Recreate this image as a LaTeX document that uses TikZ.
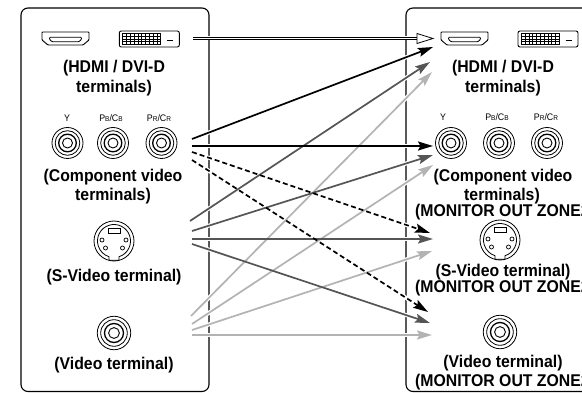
\documentclass[tikz,border=0pt]{standalone}
\usepackage{fontspec}
\setmainfont{Liberation Sans}[FakeStretch=0.93]
\usetikzlibrary{arrows.meta}
\definecolor{darkg}{HTML}{555555}
\definecolor{lightg}{HTML}{B3B3B3}
\newcommand\smalllet[1]{{\fontsize{7}{8}\selectfont #1}}
\tikzset{
  box/.style={draw, line width=1.1pt, rounded corners=7pt},
  title/.style={font=\fontsize{17}{20}\selectfont\bfseries, inner sep=0pt},
  jlabel/.style={font=\fontsize{9.5}{11}\selectfont, inner sep=0pt},
  conn/.style={line width=1.7pt, -{Stealth[length=15pt,width=9pt,inset=2.5pt]}},
  halo/.style={draw=white, line width=4pt},
  blk/.style={conn, color=black},
  dashedconn/.style={conn, color=black, dash pattern=on 5pt off 3pt},
  darkconn/.style={conn, color=darkg},
  lightconn/.style={conn, color=lightg},
  dblconn/.style={line width=0.9pt, double=white, double distance=1.5pt, shorten >=15pt},
  rca/.pic={
    \draw[line width=0.8pt] (0,0) circle[radius=15.5];
    \draw[line width=0.8pt] (0,0) circle[radius=12.3];
    \draw[line width=1.3pt] (0,0) circle[radius=8.8];
    \draw[line width=0.9pt] (0,0) circle[radius=5];
  },
  svideo/.pic={
    \draw[line width=0.8pt] (0,0) circle[radius=20];
    \draw[line width=0.8pt] (72.4:16.5) arc[start angle=72.4, end angle=-252.4, radius=16.5] -- (-5,19.2) -- (5,19.2) -- cycle;
    \draw[line width=0.8pt] (-6,-13) rectangle (6,-7.5);
    \foreach \px/\py in {-12/-1, 12/-1, -8.5/7, 8.5/7}
      \draw[line width=0.7pt] (\px,\py) circle[radius=2];
  },
  hdmi/.pic={
    \draw[line width=0.9pt, rounded corners=0.8pt] (-23.5,-6.5) -- (23.5,-6.5) -- (23.5,1.5) -- (17.5,6.5) -- (-17.5,6.5) -- (-23.5,1.5) -- cycle;
    \draw[line width=0.8pt, rounded corners=0.8pt] (-16,-1.2) -- (16,-1.2) -- (16,0.8) -- (13.5,3.2) -- (-13.5,3.2) -- (-16,0.8) -- cycle;
  },
  dvi/.pic={
    \draw[line width=0.9pt, rounded corners=2pt] (-30,-8) rectangle (30,8);
    \draw[line width=1.1pt] (-26.5,-5.5) rectangle (11.5,5.5);
    \foreach \gx in {-22.7,-18.9,...,8}
      \draw[line width=0.9pt] (\gx,-5.5) -- (\gx,5.5);
    \foreach \gy in {-2.75,0,2.75}
      \draw[line width=0.9pt] (-26.5,\gy) -- (11.5,\gy);
    \draw[line width=1.3pt] (17.5,1.5) -- (23.5,1.5);
  }
}
\begin{document}
\begin{tikzpicture}[x=1pt, y=-1pt]
\useasboundingbox (0,0) rectangle (582,393);
\clip (0,0) rectangle (582,393);

% boxes
\draw[box] (21,8) rectangle (209,391.5);
\draw[box] (406,8) rectangle (610,391.5);

% connector end points
\coordinate (dvis) at (193,38.5);   \coordinate (dvit) at (433,38.5);
\coordinate (crs1) at (192,139);    \coordinate (hdmiA) at (433,47);
\coordinate (crs2) at (192,146);    \coordinate (compA) at (433,146);
\coordinate (crs3) at (192,152);    \coordinate (svA) at (430,233);
\coordinate (crs4) at (192,160);    \coordinate (vidA) at (428,312);
\coordinate (svs1) at (190,221);    \coordinate (hdmiB) at (430,62);
\coordinate (svs2) at (192,231);    \coordinate (compB) at (433,155);
\coordinate (svs3) at (192,239);    \coordinate (svB) at (433,239);
\coordinate (svs4) at (192,244);    \coordinate (vidB) at (430,323);
\coordinate (vs1) at (191,316);     \coordinate (hdmiC) at (432,72);
\coordinate (vs2) at (192,324);     \coordinate (compC) at (433,165);
\coordinate (vs3) at (192,330);     \coordinate (svC) at (432,251);
\coordinate (vs4) at (192,335);     \coordinate (vidC) at (432,335);

% white halos where connectors cross the box borders
\foreach \a/\b in {dvis/dvit, crs1/hdmiA, crs2/compA, crs3/svA, crs4/vidA,
                   svs1/hdmiB, svs2/compB, svs3/svB, svs4/vidB,
                   vs1/hdmiC, vs2/compC, vs3/svC, vs4/vidC}
  \draw[halo, shorten >=6pt] (\a) -- (\b);

% connectors
\draw[lightconn] (vs1) -- (hdmiC);
\draw[lightconn] (vs2) -- (compC);
\draw[lightconn] (vs3) -- (svC);
\draw[lightconn] (vs4) -- (vidC);
\draw[darkconn] (svs1) -- (hdmiB);
\draw[darkconn] (svs2) -- (compB);
\draw[darkconn] (svs3) -- (svB);
\draw[darkconn] (svs4) -- (vidB);
\draw[blk] (crs1) -- (hdmiA);
\draw[blk] (crs2) -- (compA);
\draw[dashedconn] (crs3) -- (svA);
\draw[dashedconn] (crs4) -- (vidA);
\draw[dblconn] (dvis) -- (dvit);
\draw[line width=0.8pt, fill=white] (dvit) -- ++(-16,-5) -- ++(0,10) -- cycle;

% left panel
\pic at (65.5,38.5) {hdmi};
\pic at (149.3,39) {dvi};
\node[title] (lhd1) at (114,68) {(HDMI / DVI-D};
\node[title] (lhd2) at (114,88) {terminals)};
\node[jlabel] (lly) at (67,118) {Y};
\node[jlabel] (llb) at (111,118) {P\smalllet{B}/C\smalllet{B}};
\node[jlabel] (llr) at (159,118) {P\smalllet{R}/C\smalllet{R}};
\pic at (67.5,143) {rca};
\pic at (113,143) {rca};
\pic at (161.5,143) {rca};
\node[title] (lco1) at (113,177) {(Component video};
\node[title] (lco2) at (113,196) {terminals)};
\pic at (114,241) {svideo};
\node[title] (lsv) at (114,277) {(S-Video terminal)};
\pic[scale=1.08] at (114,333) {rca};
\node[title] (lvi) at (114,365) {(Video terminal)};

% right panel
\pic at (464.5,38.5) {hdmi};
\pic at (548,39) {dvi};
\node[title] (rhd1) at (503,68) {(HDMI / DVI-D};
\node[title] (rhd2) at (503,88) {terminals)};
\node[jlabel] (rly) at (443,117) {Y};
\node[jlabel] (rlb) at (497,117) {P\smalllet{B}/C\smalllet{B}};
\node[jlabel] (rlr) at (546,117) {P\smalllet{R}/C\smalllet{R}};
\pic at (451,143) {rca};
\pic at (499,143) {rca};
\pic at (547,143) {rca};
\node[title] (rco1) at (503,177) {(Component video};
\node[title] (rco2) at (502,196) {terminals)};
\node[title, anchor=west] (rz1) at (415,212) {(MONITOR OUT ZONE2)};
\pic at (500,240) {svideo};
\node[title] (rsv) at (503,272.5) {(S-Video terminal)};
\node[title, anchor=west] (rz2) at (415,288.5) {(MONITOR OUT ZONE2)};
\pic[scale=1.08] at (500,332) {rca};
\node[title] (rvi) at (503,363) {(Video terminal)};
\node[title, anchor=west] (rz3) at (415,382) {(MONITOR OUT ZONE2)};
\end{tikzpicture}
\end{document}
